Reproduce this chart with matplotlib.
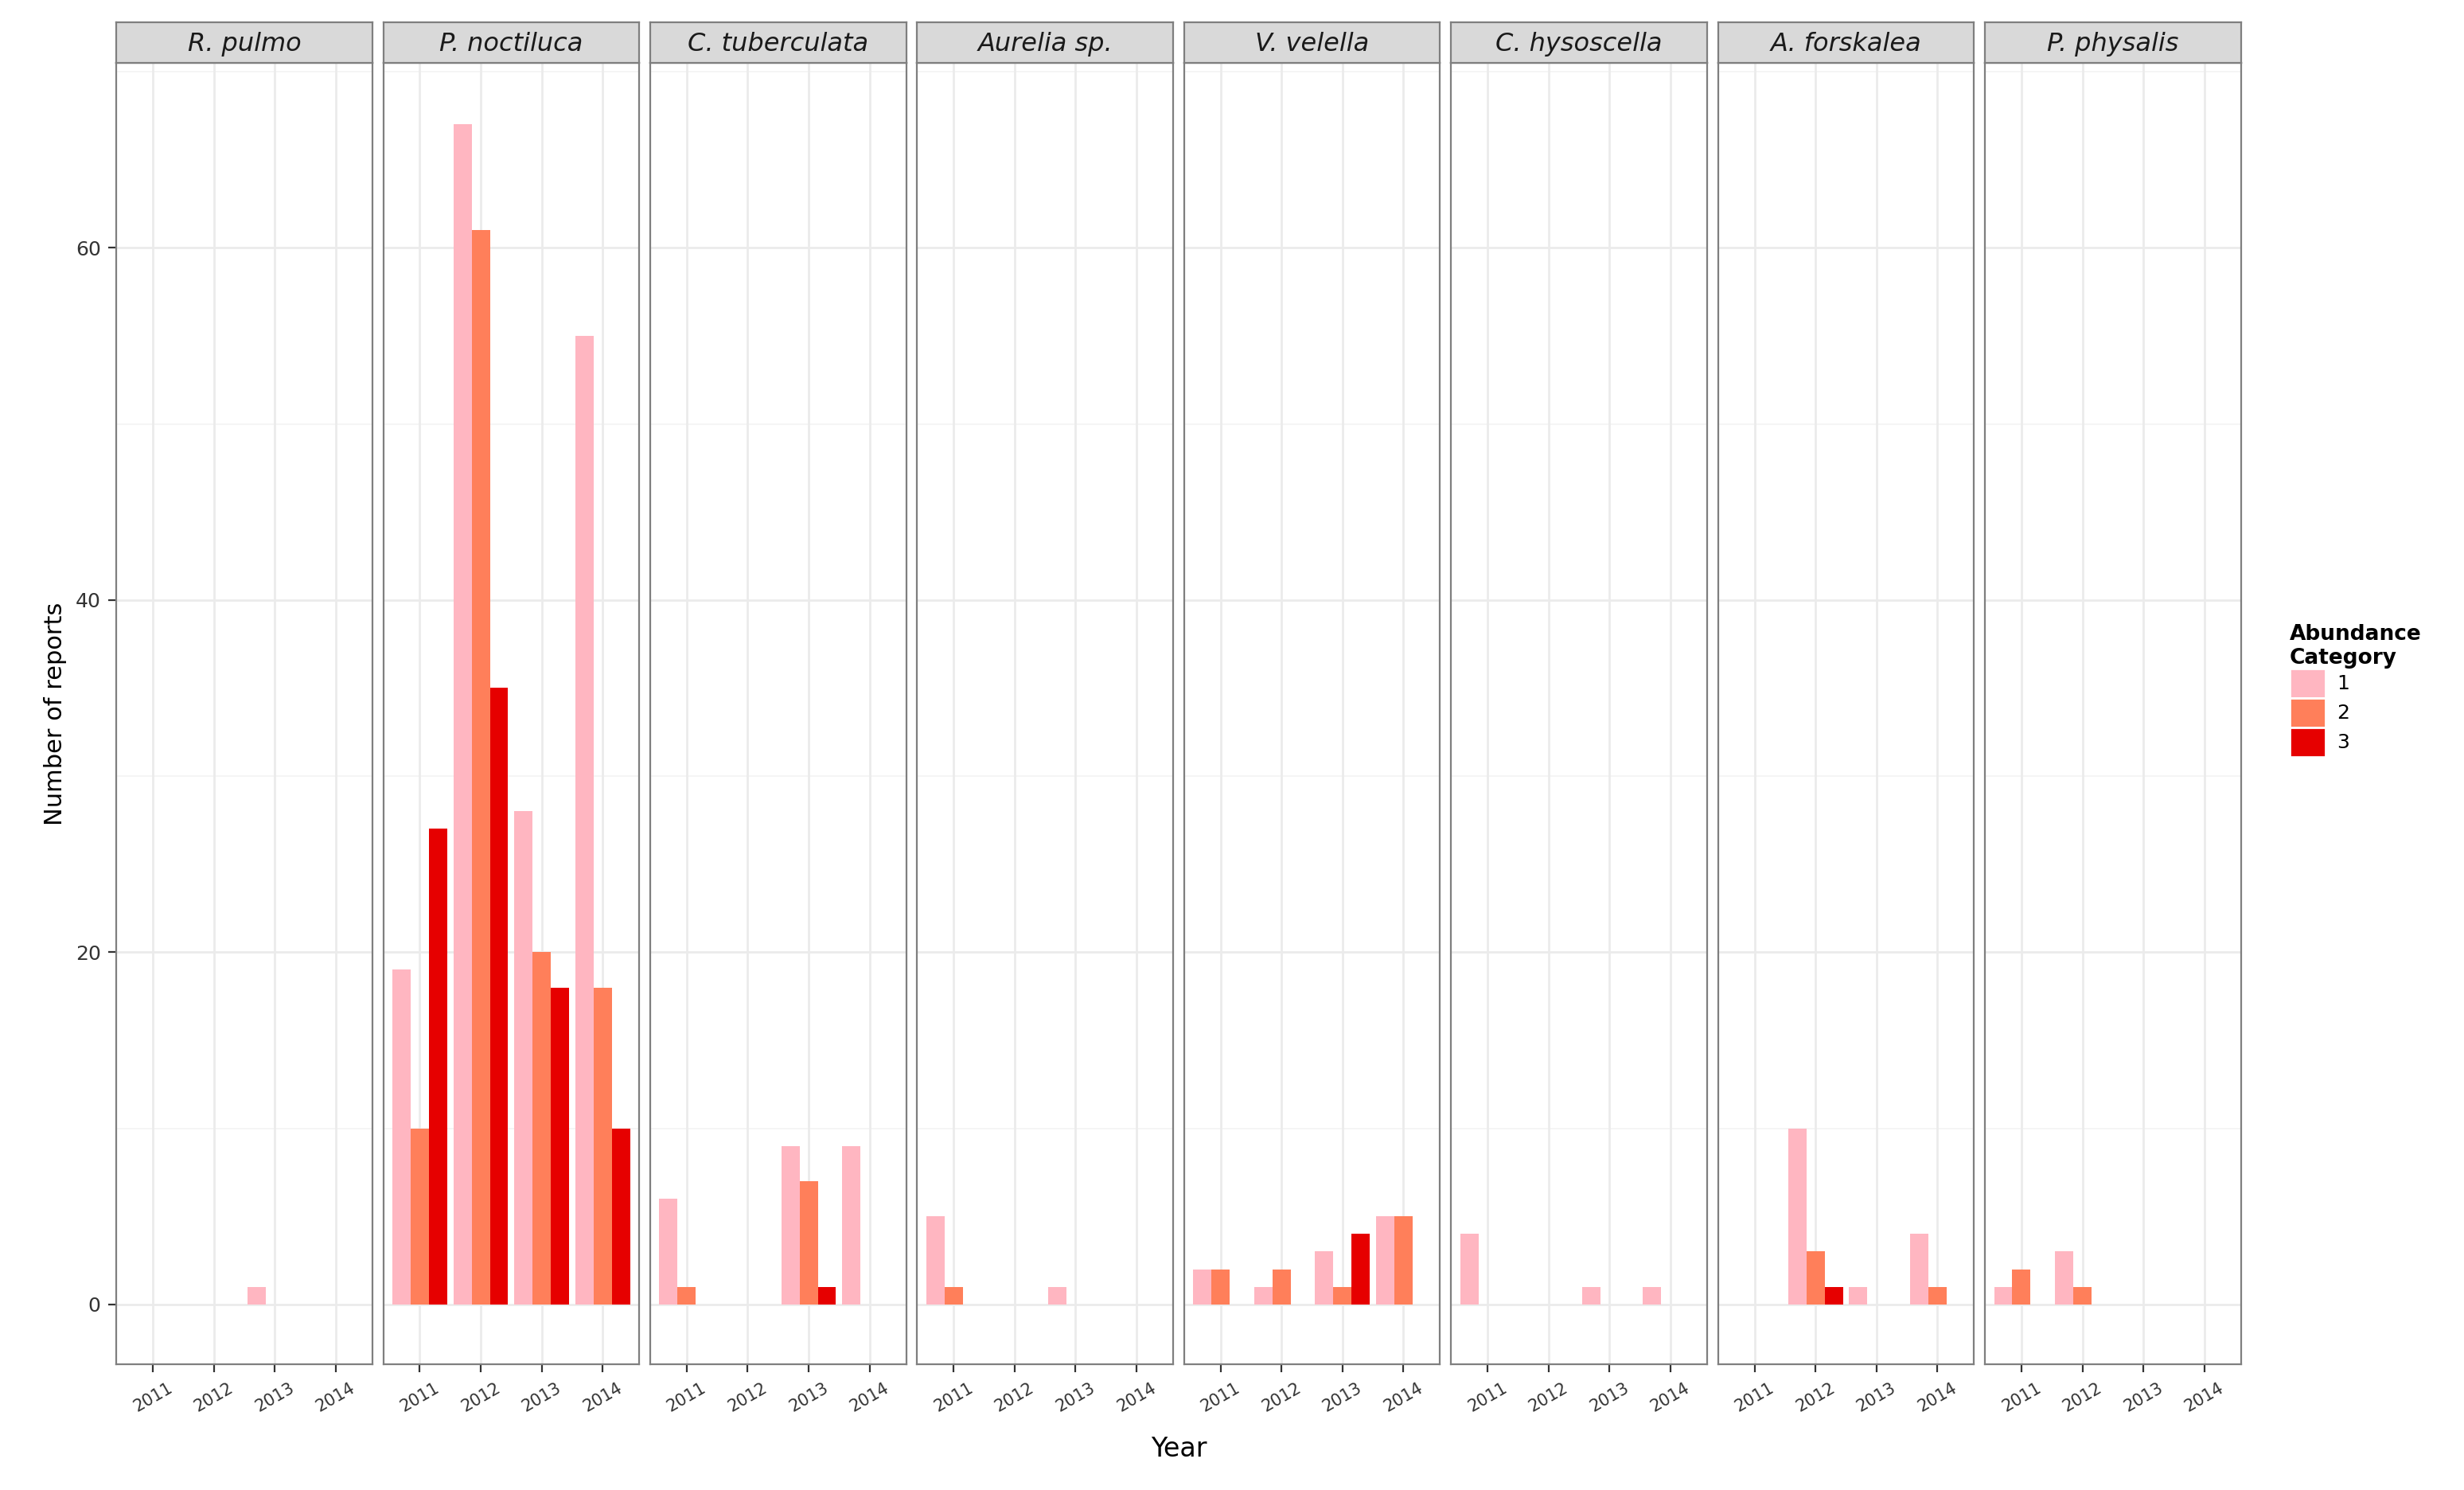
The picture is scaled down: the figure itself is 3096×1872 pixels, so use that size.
import matplotlib
matplotlib.use("Agg")
import matplotlib.pyplot as plt
from matplotlib.patches import Rectangle, Patch
import numpy as np

species = ["R. pulmo", "P. noctiluca", "C. tuberculata", "Aurelia sp.",
           "V. velella", "C. hysoscella", "A. forskalea", "P. physalis"]
years = [2011, 2012, 2013, 2014]
# values[species][category] per year
cat1 = [[0,0,1,0],[19,67,28,55],[6,0,9,9],[5,0,1,0],[2,1,3,5],[4,0,1,1],[0,10,1,4],[1,3,0,0]]
cat2 = [[0,0,0,0],[10,61,20,18],[1,0,7,0],[1,0,0,0],[2,2,1,5],[0,0,0,0],[0,3,0,1],[2,1,0,0]]
cat3 = [[0,0,0,0],[27,35,18,10],[0,0,1,0],[0,0,0,0],[0,0,4,0],[0,0,0,0],[0,1,0,0],[0,0,0,0]]
categories = ["1", "2", "3"]
colors = ["#FFB6C1", "#FF7F5A", "#E60000"]

W, H = 3096, 1872
fig = plt.figure(figsize=(W/200, H/200), dpi=200)
sx, sy = 1/1568, 1/948
left, right = 74*sx, 1426*sx
gap = 7*sx
pw = (right-left-7*gap)/8
bottom, top, striptop = 1-868*sy, 1-40*sy, 1-14*sy

for i, sp in enumerate(species):
    x0 = left + i*(pw+gap)
    ax = fig.add_axes([x0, bottom, pw, top-bottom])
    ax.set_facecolor("white")
    for y in [0,20,40,60]:
        ax.axhline(y, color="#EBEBEB", lw=1.0, zorder=0)
    for y in [10,30,50,70]:
        ax.axhline(y, color="#F4F4F4", lw=0.6, zorder=0)
    for k in range(4):
        ax.axvline(k, color="#EBEBEB", lw=1.0, zorder=0)
    xs = np.arange(4)
    for c, vals in enumerate([cat1, cat2, cat3]):
        v = vals[i]
        ax.bar(xs + (c-1)*0.3, v, width=0.3, color=colors[c], zorder=2)
    ax.set_xlim(-0.6, 3.6)
    ax.set_ylim(-3.4, 70.5)
    ax.set_xticks(xs)
    ax.set_xticklabels([str(y) for y in years], rotation=30, fontsize=7.5)
    ax.set_yticks([0,20,40,60])
    if i == 0:
        ax.set_yticklabels(["0","20","40","60"], fontsize=9)
        ax.set_ylabel("Number of reports", fontsize=11)
    else:
        ax.set_yticklabels([])
        ax.tick_params(axis="y", length=0)
    ax.tick_params(axis="both", colors="#333333", width=0.8)
    for s in ax.spines.values():
        s.set_color("#7F7F7F"); s.set_linewidth(0.8)
    sax = fig.add_axes([x0, top, pw, striptop-top])
    sax.set_facecolor("#D9D9D9")
    sax.set_xticks([]); sax.set_yticks([])
    for s in sax.spines.values():
        s.set_color("#7F7F7F"); s.set_linewidth(0.8)
    sax.text(0.5, 0.45, sp, ha="center", va="center", style="italic", fontsize=11.5,
             transform=sax.transAxes, color="#1A1A1A")

fig.text((left+right)/2, 1-922*sy, "Year", ha="center", va="center", fontsize=12)

handles = [Patch(facecolor=colors[c], edgecolor="white", label=categories[c]) for c in range(3)]
leg = fig.legend(handles=handles, title="Abundance\nCategory", loc="upper left",
                 bbox_to_anchor=(1448*sx, 1-388*sy), frameon=False, fontsize=9,
                 title_fontsize=9.5, handlelength=1.8, handleheight=1.9,
                 handletextpad=0.6, labelspacing=0.0, borderpad=0.2)
leg.get_title().set_fontweight("bold")
leg._legend_box.align = "left"

fig.savefig("out.png", dpi=200, facecolor="white")
